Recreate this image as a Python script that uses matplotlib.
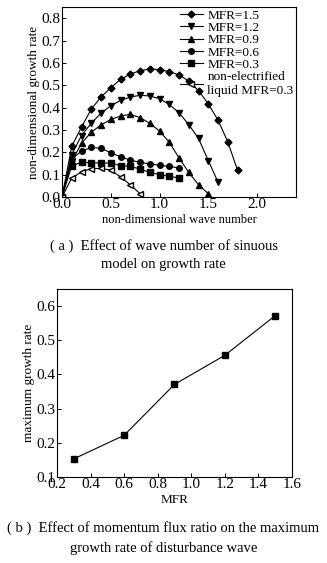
import matplotlib.pyplot as plt
import numpy as np

plt.rcParams['font.family'] = ['Liberation Serif', 'DejaVu Serif']
plt.rcParams['xtick.direction'] = 'in'
plt.rcParams['ytick.direction'] = 'in'

# (a) growth rate vs wave number
k15 = [0, 0.1, 0.2, 0.3, 0.4, 0.5, 0.6, 0.7, 0.8, 0.9, 1.0, 1.1, 1.2, 1.3, 1.4, 1.5, 1.6, 1.7, 1.8]
g15 = [0, 0.227, 0.313, 0.393, 0.447, 0.489, 0.526, 0.550, 0.565, 0.573, 0.570, 0.561, 0.546, 0.519, 0.476, 0.417, 0.344, 0.247, 0.120]
k12 = [0, 0.1, 0.2, 0.3, 0.4, 0.5, 0.6, 0.7, 0.8, 0.9, 1.0, 1.1, 1.2, 1.3, 1.4, 1.5, 1.6]
g12 = [0, 0.19, 0.275, 0.33, 0.375, 0.408, 0.432, 0.447, 0.455, 0.452, 0.440, 0.414, 0.377, 0.324, 0.262, 0.163, 0.067]
k09 = [0, 0.1, 0.2, 0.3, 0.4, 0.5, 0.6, 0.7, 0.8, 0.9, 1.0, 1.1, 1.2, 1.3, 1.4, 1.5]
g09 = [0, 0.16, 0.24, 0.29, 0.322, 0.347, 0.362, 0.37, 0.355, 0.33, 0.295, 0.245, 0.175, 0.11, 0.055, 0.015]
k06 = [0, 0.1, 0.2, 0.3, 0.4, 0.5, 0.6, 0.7, 0.8, 0.9, 1.0, 1.1, 1.2]
g06 = [0, 0.17, 0.205, 0.222, 0.218, 0.198, 0.18, 0.165, 0.155, 0.148, 0.142, 0.137, 0.13]
k03 = [0, 0.1, 0.2, 0.3, 0.4, 0.5, 0.6, 0.7, 0.8, 0.9, 1.0, 1.1, 1.2]
g03 = [0, 0.14, 0.155, 0.153, 0.152, 0.152, 0.14, 0.137, 0.125, 0.11, 0.1, 0.093, 0.085]
kne = [0, 0.1, 0.2, 0.3, 0.4, 0.5, 0.6, 0.7, 0.8]
gne = [0, 0.085, 0.112, 0.127, 0.128, 0.12, 0.09, 0.055, 0.015]

# (b) maximum growth rate vs MFR
mfr = [0.3, 0.6, 0.9, 1.2, 1.5]
gmax = [0.153, 0.222, 0.371, 0.456, 0.572]

fig = plt.figure(figsize=(3.27, 5.63), dpi=100)

ax1 = fig.add_axes([62/327, 1 - 197/563, 234/327, 190/563])
ms = 4
ax1.plot(k15, g15, 'k-', marker='D', ms=ms - 0.5, lw=0.8, label='MFR=1.5')
ax1.plot(k12, g12, 'k-', marker='v', ms=ms + 0.5, lw=0.8, label='MFR=1.2')
ax1.plot(k09, g09, 'k-', marker='^', ms=ms + 0.5, lw=0.8, label='MFR=0.9')
ax1.plot(k06, g06, 'k-', marker='o', ms=ms, lw=0.8, label='MFR=0.6')
ax1.plot(k03, g03, 'k-', marker='s', ms=ms - 0.3, lw=0.8, label='MFR=0.3')
ax1.plot(kne, gne, 'k-', marker='<', ms=ms + 0.5, lw=0.8, mfc='white',
         label='non-electrified\nliquid MFR=0.3')
ax1.set_xlim(0, 2.4)
ax1.set_ylim(0, 0.85)
ax1.set_xticks([0, 0.5, 1.0, 1.5, 2.0])
ax1.set_yticks(np.arange(0, 0.81, 0.1))
ax1.set_xticklabels(['0.0', '0.5', '1.0', '1.5', '2.0'])
ax1.set_yticklabels(['%.1f' % v for v in np.arange(0, 0.81, 0.1)])
ax1.tick_params(labelsize=11, length=3, width=0.7, pad=1)
ax1.set_xlabel('non-dimensional wave number', fontsize=9, labelpad=2)
ax1.set_ylabel('non-dimensional growth rate', fontsize=9.5, labelpad=1)
ax1.legend(loc='upper right', frameon=False, fontsize=9.5, handlelength=1.8,
           labelspacing=0.0, handletextpad=0.3, borderaxespad=0.1, borderpad=0.1)

fig.text(0.5, 1 - 255/563, '( a )  Effect of wave number of sinuous\nmodel on growth rate',
         ha='center', va='center', fontsize=10.5, linespacing=1.5)

ax2 = fig.add_axes([57/327, 1 - 477/563, 235/327, 188/563])
ax2.plot(mfr, gmax, 'k-', marker='s', ms=4.5, lw=0.8)
ax2.set_xlim(0.2, 1.6)
ax2.set_ylim(0.1, 0.65)
ax2.set_xticks(np.arange(0.2, 1.61, 0.2))
ax2.set_yticks(np.arange(0.1, 0.61, 0.1))
ax2.set_xticklabels(['%.1f' % v for v in np.arange(0.2, 1.61, 0.2)])
ax2.set_yticklabels(['%.1f' % v for v in np.arange(0.1, 0.61, 0.1)])
ax2.tick_params(labelsize=11, length=3, width=0.7, pad=1)
ax2.set_xlabel('MFR', fontsize=9.5, labelpad=2)
ax2.set_ylabel('maximum growth rate', fontsize=9.5, labelpad=1)

fig.text(0.5, 1 - 538/563, '( b )  Effect of momentum flux ratio on the maximum\ngrowth rate of disturbance wave',
         ha='center', va='center', fontsize=10.5, linespacing=1.5)

fig.savefig('out.png', dpi=100)
